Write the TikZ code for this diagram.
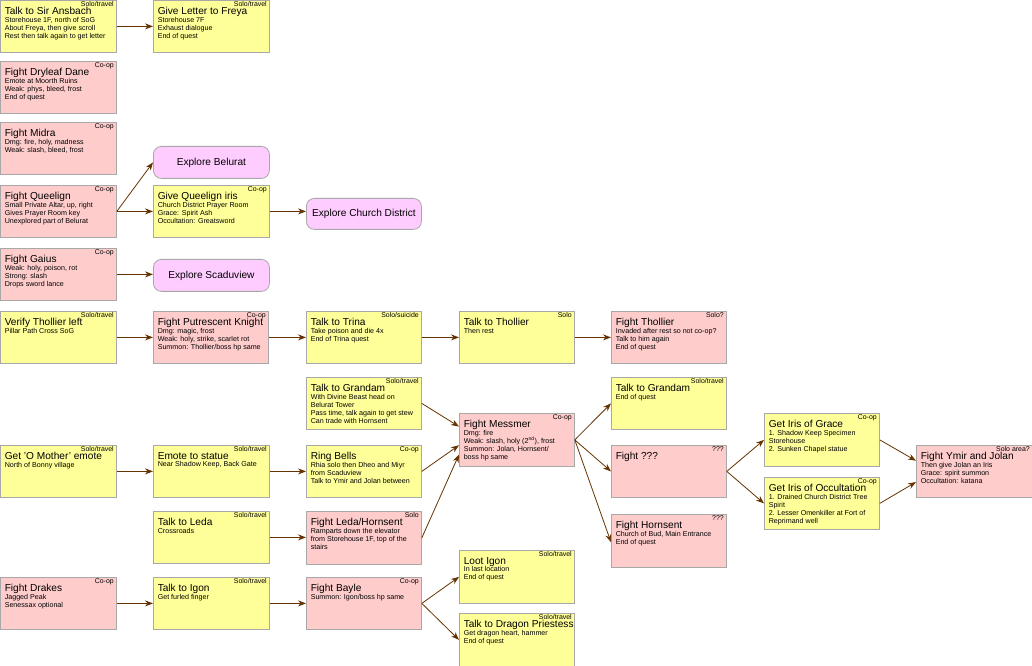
\documentclass[tikz,border=0pt]{standalone}
\usepackage{fontspec}
\setmainfont{Liberation Sans}
\usetikzlibrary{arrows.meta}
\definecolor{yel}{HTML}{FFFF99}
\definecolor{pnk}{HTML}{FFCCCC}
\definecolor{prp}{HTML}{FFCCFF}
\definecolor{brn}{HTML}{663300}
\definecolor{bord}{HTML}{A8A8A8}
\newcommand\qb[9]{%
  \node[qbox,fill=#6,minimum width={#4*0.75pt},minimum height={#5*0.75pt}] (#1) at (#2,#3) {};
  \node[qtag] (#1-tag) at (#2+#4-2,#3+1.5) {#7};
  \node[qtxt] (#1-txt) at (#2+4.5,#3+7) {{\fontsize{7.6}{8.6}\selectfont #8}\\[-0.3pt]#9};
}
\newcommand\qx[6]{%
  \node[xbox,minimum width={#4*0.75pt},minimum height={#5*0.75pt}] (#1) at (#2,#3) {#6};
}
\tikzset{
  qbox/.style={draw=bord,line width=0.6pt,anchor=north west,inner sep=0},
  xbox/.style={draw=bord,line width=0.6pt,fill=prp,rounded corners=6pt,anchor=north west,inner sep=0,font=\fontsize{7.6}{8.6}\selectfont},
  qtag/.style={anchor=north east,inner sep=0,font=\fontsize{5.2}{6}\selectfont},
  qtxt/.style={anchor=north west,inner sep=0,align=left,font=\fontsize{5.35}{6}\selectfont},
  ar/.style={draw=brn,line width=0.6pt,-{Stealth[length=6pt,width=4.5pt]}},
}
\begin{document}
\begin{tikzpicture}[x=0.75pt,y=-0.75pt]
\useasboundingbox[fill=white] (0,0) rectangle (1032,666);
\qb{ansbach}{0}{0}{116}{52}{yel}{Solo/travel}{Talk to Sir Ansbach}{Storehouse 1F, north of SoG\\About Freya, then give scroll\\Rest then talk again to get letter}
\qb{freya}{153}{0}{116}{52}{yel}{Solo/travel}{Give Letter to Freya}{Storehouse 7F\\Exhaust dialogue\\End of quest}
\qb{dryleaf}{0}{61}{116}{52}{pnk}{Co-op}{Fight Dryleaf Dane}{Emote at Moorth Ruins\\Weak: phys, bleed, frost\\End of quest}
\qb{midra}{0}{122}{116}{52}{pnk}{Co-op}{Fight Midra}{Dmg: fire, holy, madness\\Weak: slash, bleed, frost}
\qb{queelign}{0}{185}{116}{52}{pnk}{Co-op}{Fight Queelign}{Small Private Altar, up, right\\Gives Prayer Room key\\Unexplored part of Belurat}
\qb{gaius}{0}{248}{116}{52}{pnk}{Co-op}{Fight Gaius}{Weak: holy, poison, rot\\Strong: slash\\Drops sword lance}
\qx{belurat}{153}{146}{116}{32}{Explore Belurat}
\qb{iris}{153}{185}{116}{52}{yel}{Co-op}{Give Queelign iris}{Church District Prayer Room\\Grace: Spirit Ash\\Occultation: Greatsword}
\qx{church}{306}{198}{115}{31}{Explore Church District}
\qx{scadu}{153}{259}{116}{32}{Explore Scaduview}
\qb{verify}{0}{311}{116}{52}{yel}{Solo/travel}{Verify Thollier left}{Pillar Path Cross SoG}
\qb{putre}{153}{311}{115}{52}{pnk}{Co-op}{Fight Putrescent Knight}{Dmg: magic, frost\\Weak: holy, strike, scarlet rot\\Summon: Thollier/boss hp same}
\qb{trina}{306}{311}{115}{52}{yel}{Solo/suicide}{Talk to Trina}{Take poison and die 4x\\End of Trina quest}
\qb{tholl}{459}{311}{115}{52}{yel}{Solo}{Talk to Thollier}{Then rest}
\qb{ftholl}{611}{311}{115}{52}{pnk}{Solo?}{Fight Thollier}{Invaded after rest so not co-op?\\Talk to him again\\End of quest}
\qb{grandam}{306}{377}{115}{52}{yel}{Solo/travel}{Talk to Grandam}{With Divine Beast head on\\Belurat Tower\\Pass time, talk again to get stew\\Can trade with Hornsent}
\qb{messmer}{459}{413}{115}{53}{pnk}{Co-op}{Fight Messmer}{Dmg: fire\\Weak: slash, holy (2\textsuperscript{nd}), frost\\Summon: Jolan, Hornsent/\\boss hp same}
\qb{grandam2}{611}{377}{115}{52}{yel}{Solo/travel}{Talk to Grandam}{End of quest}
\qb{fq}{611}{445}{115}{52}{pnk}{???}{Fight ???}{}
\qb{hornsent}{611}{514}{115}{53}{pnk}{???}{Fight Hornsent}{Church of Bud, Main Entrance\\End of quest}
\qb{grace}{764}{413}{115}{53}{yel}{Co-op}{Get Iris of Grace}{1. Shadow Keep Specimen\\Storehouse\\2. Sunken Chapel statue}
\qb{occult}{764}{477}{115}{52}{yel}{Co-op}{Get Iris of Occultation}{1. Drained Church District Tree\\Spirit\\2. Lesser Omenkiller at Fort of\\Reprimand well}
\qb{ymir}{916}{445}{116}{52}{pnk}{Solo area?}{Fight Ymir and Jolan}{Then give Jolan an Iris\\Grace: spirit summon\\Occultation: katana}
\qb{mother}{0}{445}{116}{52}{yel}{Solo/travel}{Get 'O Mother' emote}{North of Bonny village}
\qb{emote}{153}{445}{116}{52}{yel}{Solo/travel}{Emote to statue}{Near Shadow Keep, Back Gate}
\qb{bells}{306}{445}{115}{52}{yel}{Co-op}{Ring Bells}{Rhia solo then Dheo and Miyr\\from Scaduview\\Talk to Ymir and Jolan between}
\qb{leda}{153}{511}{116}{52}{yel}{Solo/travel}{Talk to Leda}{Crossroads}
\qb{ledah}{306}{511}{115}{53}{pnk}{Solo}{Fight Leda/Hornsent}{Ramparts down the elevator\\from Storehouse 1F, top of the\\stairs}
\qb{drakes}{0}{577}{116}{52}{pnk}{Co-op}{Fight Drakes}{Jagged Peak\\Senessax optional}
\qb{igon}{153}{577}{116}{52}{yel}{Solo/travel}{Talk to Igon}{Get furled finger}
\qb{bayle}{306}{577}{115}{52}{pnk}{Co-op}{Fight Bayle}{Summon: Igon/boss hp same}
\qb{loot}{459}{550}{115}{53}{yel}{Solo/travel}{Loot Igon}{In last location\\End of quest}
\qb{priest}{459}{613}{115}{53}{yel}{Solo/travel}{Talk to Dragon Priestess}{Get dragon heart, hammer\\End of quest}
\draw[ar] (ansbach.east) -- (freya.west);
\draw[ar] (queelign.east) -- (belurat.west);
\draw[ar] (queelign.east) -- (iris.west);
\draw[ar] (iris.east) -- (iris.east -| church.west);
\draw[ar] (gaius.east) -- (gaius.east -| scadu.west);
\draw[ar] (verify.east) -- (putre.west);
\draw[ar] (putre.east) -- (trina.west);
\draw[ar] (trina.east) -- (tholl.west);
\draw[ar] (tholl.east) -- (ftholl.west);
\draw[ar] (grandam.east) -- ([yshift=10pt]messmer.west);
\draw[ar] (bells.east) -- ([yshift=-4pt]messmer.west);
\draw[ar] (ledah.east) -- ([yshift=-11pt]messmer.west);
\draw[ar] (messmer.east) -- (grandam2.west);
\draw[ar] (messmer.east) -- (fq.west);
\draw[ar] (messmer.east) -- ([yshift=-1pt]hornsent.west);
\draw[ar] (fq.east) -- (grace.west);
\draw[ar] (fq.east) -- (occult.west);
\draw[ar] (grace.east) -- ([yshift=8pt]ymir.west);
\draw[ar] (occult.east) -- ([yshift=-8pt]ymir.west);
\draw[ar] (mother.east) -- (emote.west);
\draw[ar] (emote.east) -- (bells.west);
\draw[ar] (leda.east) -- (leda.east -| ledah.west);
\draw[ar] (drakes.east) -- (igon.west);
\draw[ar] (igon.east) -- (bayle.west);
\draw[ar] (bayle.east) -- (loot.west);
\draw[ar] (bayle.east) -- (priest.west);
\end{tikzpicture}
\end{document}
